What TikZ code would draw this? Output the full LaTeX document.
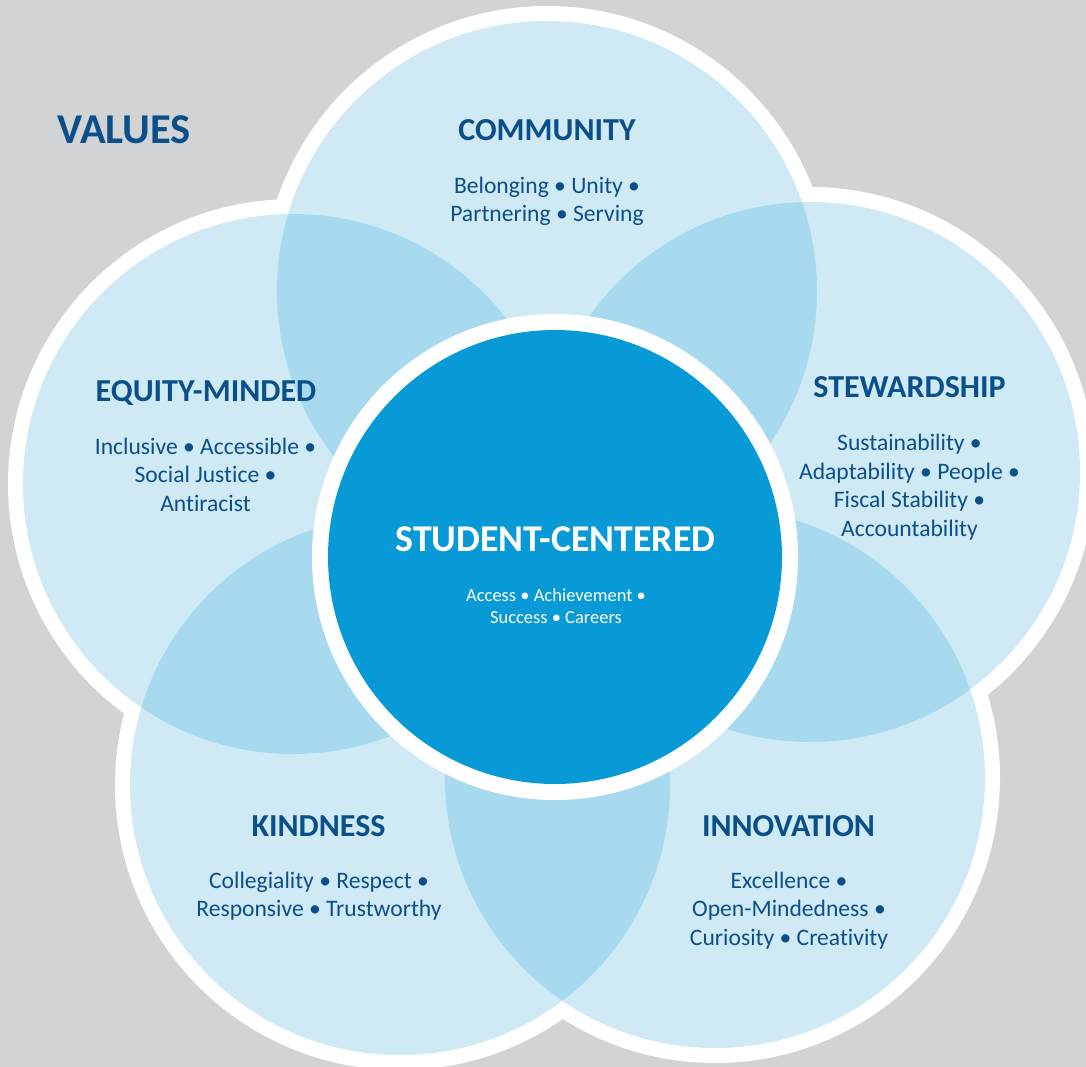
\documentclass[tikz,border=0pt]{standalone}
\usepackage{fontspec}
\setmainfont{Carlito}[Ligatures=CommonOff]
\definecolor{bggrey}{RGB}{210,211,213}
\definecolor{petal}{RGB}{207,234,245}
\definecolor{overlap}{RGB}{167,218,238}
\definecolor{centerblue}{RGB}{8,154,214}
\definecolor{navy}{RGB}{11,79,138}
\tikzset{
  head/.style={font=\fontsize{32}{38}\selectfont\bfseries, text=navy, inner sep=0pt, anchor=base},
  body/.style={font=\fontsize{23.6}{28}\selectfont, text=navy, inner sep=0pt, anchor=base},
  chead/.style={font=\fontsize{37.8}{44}\selectfont\bfseries, text=white, inner sep=0pt, anchor=base},
  cbody/.style={font=\fontsize{18.5}{22}\selectfont, text=white, inner sep=0pt, anchor=base},
  title/.style={font=\fontsize{42.5}{48}\selectfont\bfseries, text=navy, inner sep=0pt, anchor=base},
}
\begin{document}
\begin{tikzpicture}[x=1pt,y=-1pt]
\useasboundingbox (0,0) rectangle (1086,1067);
\fill[bggrey] (0,0) rectangle (1086,1067);
% petal centres
\coordinate (cT) at (547,291);
\coordinate (cL) at (293,484);
\coordinate (cR) at (810,472);
\coordinate (cBL) at (400,785);
\coordinate (cBR) at (715,778);
\coordinate (cC) at (555,557);
% white outlines
\foreach \c in {cT,cL,cR,cBL,cBR}
  \fill[white] (\c) circle[radius=285pt];
% petals
\foreach \c in {cT,cL,cR,cBL,cBR}
  \fill[petal] (\c) circle[radius=270pt];
% overlaps
\foreach \a/\b in {cT/cL,cT/cR,cL/cBL,cR/cBR,cBL/cBR,cT/cBL,cT/cBR,cL/cR,cL/cBR,cR/cBL}{
  \begin{scope}
    \clip (\a) circle[radius=270pt];
    \fill[overlap] (\b) circle[radius=270pt];
  \end{scope}
}
% centre circle
\fill[white] (cC) circle[radius=243pt];
\fill[centerblue] (cC) circle[radius=227pt];

% texts
\node[title] (values) at (124,144) {VALUES};

\node[head] (comH) at (547,141) {COMMUNITY};
\node[body] (com1) at (547,194) {Belonging • Unity •};
\node[body] (com2) at (547,222) {Partnering • Serving};

\node[head] (eqH) at (206,401) {EQUITY-MINDED};
\node[body] (eq1) at (205.5,454) {Inclusive • Accessible •};
\node[body] (eq2) at (205.5,482.5) {Social Justice •};
\node[body] (eq3) at (205.5,511) {Antiracist};

\node[head] (stH) at (909.5,397) {STEWARDSHIP};
\node[body] (st1) at (909.5,450.5) {Sustainability •};
\node[body] (st2) at (909.5,479) {Adaptability • People •};
\node[body] (st3) at (909.5,507.5) {Fiscal Stability •};
\node[body] (st4) at (909.5,536) {Accountability};

\node[chead] (scH) at (555.5,551.5) {STUDENT-CENTERED};
\node[cbody] (sc1) at (556,601) {Access • Achievement •};
\node[cbody] (sc2) at (556,623) {Success • Careers};

\node[head] (kiH) at (318.5,836) {KINDNESS};
\node[body] (ki1) at (319,888) {Collegiality • Respect •};
\node[body] (ki2) at (319,916) {Responsive • Trustworthy};

\node[head] (inH) at (788.5,836) {INNOVATION};
\node[body] (in1) at (789,888) {Excellence •};
\node[body] (in2) at (789,916.5) {Open-Mindedness •};
\node[body] (in3) at (789,945) {Curiosity • Creativity};
\end{tikzpicture}
\end{document}
